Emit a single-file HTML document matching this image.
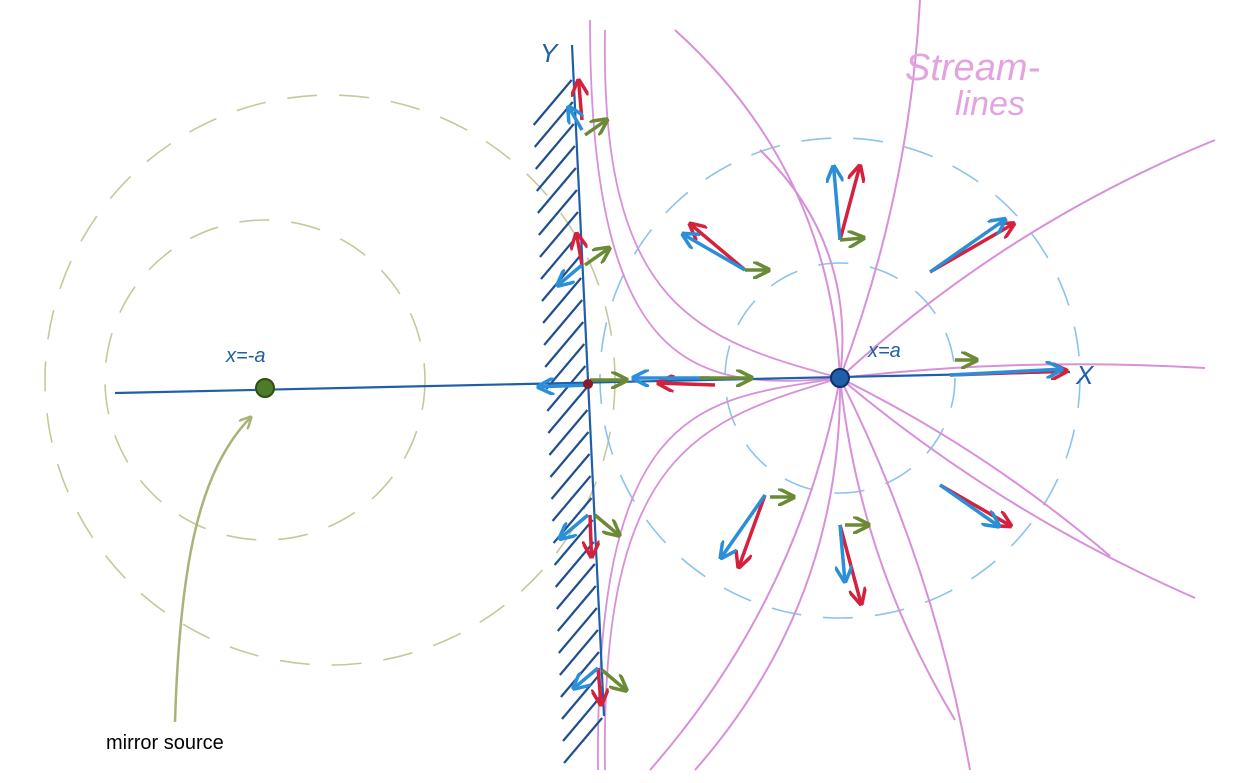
<!DOCTYPE html>
<html><head><meta charset="utf-8"><style>
html,body{margin:0;padding:0;background:#fff;width:1252px;height:783px;overflow:hidden}
svg{display:block}
text{font-family:"Liberation Sans",sans-serif}
</style></head><body>
<svg id="sk" width="1252" height="783" viewBox="0 0 1252 783" xmlns="http://www.w3.org/2000/svg">
<defs>
<marker id="ar" viewBox="0 0 10 10" refX="8" refY="5" markerWidth="5" markerHeight="5" orient="auto"><path d="M0,0 L10,5 L0,10" fill="none" stroke="context-stroke" stroke-width="2"/></marker>
</defs>
<g id="circles"></g>
<g id="streams"></g>
<g id="hatch"></g>
<line x1="115" y1="393" x2="1070" y2="372" stroke="#1f5fa8" stroke-width="2.2"/>
<line x1="572" y1="45" x2="604" y2="716" stroke="#1f5fa8" stroke-width="2.2"/>
<g id="arrows"></g>
<circle cx="265" cy="388" r="9" fill="#4f7a2a" stroke="#2c4f12" stroke-width="2"/>
<circle cx="840" cy="378" r="9" fill="#1f5fa8" stroke="#0d2f6a" stroke-width="2"/>
<circle cx="588" cy="384" r="5" fill="#8a1a2a"/>
<path d="M175,722 C180,560 200,470 250,418" fill="none" stroke="#aab27a" stroke-width="2.5" marker-end="url(#ar)"/>
<text x="226" y="362" font-size="20" fill="#1f5fa8" font-style="italic">x=-a</text>
<text x="868" y="357" font-size="20" fill="#1f5fa8" font-style="italic">x=a</text>
<text x="540" y="62" font-size="26" fill="#1f5fa8" font-style="italic">Y</text>
<text x="1076" y="384" font-size="26" fill="#1f5fa8" font-style="italic">X</text>
<text x="905" y="80" font-size="38" fill="#e3a3e0" font-style="italic">Stream-</text>
<text x="955" y="115" font-size="34" fill="#e3a3e0" font-style="italic">lines</text>
<text x="106" y="749" font-size="20" fill="#000">mirror source</text>
</svg>
<script>
const NS="http://www.w3.org/2000/svg";
const mirrorRadii=[160,285];
const sourceRadii=[115,240];
// streamline end points and bulge
const streamEnds=[[920,0,15],[1215,140,-20],[1205,368,-8],[1195,598,15],[1110,556,-10],[955,720,20],[970,770,-15],[695,770,-40],[650,770,-30],[760,150,30],[675,30,40]];
const cornerStreams=[[840,378,700,340,600,310,605,30],[840,378,700,390,590,380,590,20],[840,378,700,420,600,450,605,770],[840,378,700,400,595,400,598,770]];
const arrowData=[
[745,270,-140,70,"#d4213d"],[745,270,-150,70,"#2a8fd8"],[745,270,0,22,"#6a8a35"],
[840,240,-75,75,"#d4213d"],[840,240,-95,72,"#2a8fd8"],[840,240,-5,22,"#6a8a35"],
[930,272,-30,95,"#d4213d"],[930,272,-35,90,"#2a8fd8"],
[950,375,-2,115,"#d4213d"],[950,375,-3,110,"#2a8fd8"],[955,360,0,20,"#6a8a35"],
[940,485,30,80,"#d4213d"],[940,485,35,70,"#2a8fd8"],
[840,525,75,80,"#d4213d"],[840,525,85,55,"#2a8fd8"],[845,525,0,22,"#6a8a35"],
[765,495,110,75,"#d4213d"],[765,495,125,75,"#2a8fd8"],[770,497,0,22,"#6a8a35"],
[715,385,182,55,"#d4213d"],[710,378,180,75,"#2a8fd8"],[700,378,0,50,"#6a8a35"],
[590,385,178,50,"#2a8fd8"],[590,380,0,35,"#6a8a35"],
[582,120,-95,38,"#d4213d"],[582,130,-120,25,"#2a8fd8"],[585,135,-35,25,"#6a8a35"],
[582,265,-100,30,"#d4213d"],[582,265,140,30,"#2a8fd8"],[585,265,-35,28,"#6a8a35"],
[590,515,88,40,"#d4213d"],[588,515,140,35,"#2a8fd8"],[595,515,40,30,"#6a8a35"],
[598,668,85,35,"#d4213d"],[598,668,140,30,"#2a8fd8"],[602,670,40,30,"#6a8a35"]];
const cg=document.getElementById('circles');
mirrorRadii.forEach(r=>{const c=document.createElementNS(NS,'circle');


c.setAttribute('cx',r>200?330:265);c.setAttribute('cy',380);c.setAttribute('r',r);
c.setAttribute('fill','none');c.setAttribute('stroke','#c5c99a');c.setAttribute('stroke-width','1.6');c.setAttribute('stroke-dasharray','30 22');cg.appendChild(c);});
sourceRadii.forEach(r=>{const c=document.createElementNS(NS,'circle');


c.setAttribute('cx',840);c.setAttribute('cy',378);c.setAttribute('r',r);
c.setAttribute('fill','none');c.setAttribute('stroke','#8cc3ea');c.setAttribute('stroke-width','1.6');c.setAttribute('stroke-dasharray','30 22');cg.appendChild(c);});
const sg=document.getElementById('streams');
streamEnds.forEach(e=>{const p=document.createElementNS(NS,'path');
const dx=e[0]-840, dy=e[1]-378, L=Math.hypot(dx,dy);
const mx=840+dx/2 - dy/L*e[2]*2, my=378+dy/2 + dx/L*e[2]*2;


p.setAttribute('d',`M840,378 Q${mx},${my} ${e[0]},${e[1]}`);
p.setAttribute('fill','none');p.setAttribute('stroke','#d890d8');p.setAttribute('stroke-width','2');sg.appendChild(p);});
cornerStreams.forEach(w=>{const p=document.createElementNS(NS,'path');


p.setAttribute('d',`M${w[0]},${w[1]} C${w[2]},${w[3]} ${w[4]},${w[5]} ${w[6]},${w[7]}`);
p.setAttribute('fill','none');p.setAttribute('stroke','#d890d8');p.setAttribute('stroke-width','1.8');sg.appendChild(p);});
const hg=document.getElementById('hatch');
for(let y=80;y<720;y+=22){const l=document.createElementNS(NS,'line');
const x=572+(y-45)*32/671;


l.setAttribute('x1',x-2);l.setAttribute('y1',y);l.setAttribute('x2',x-40);l.setAttribute('y2',y+45);
l.setAttribute('stroke','#1f4f90');l.setAttribute('stroke-width','2.2');hg.appendChild(l);}
const ag=document.getElementById('arrows');
arrowData.forEach(a=>{const l=document.createElementNS(NS,'line');
const t=a[2]*Math.PI/180;


l.setAttribute('x1',a[0]);l.setAttribute('y1',a[1]);
l.setAttribute('x2',a[0]+a[3]*Math.cos(t));l.setAttribute('y2',a[1]+a[3]*Math.sin(t));
l.setAttribute('stroke',a[4]);l.setAttribute('stroke-width','3.5');l.setAttribute('marker-end','url(#ar)');ag.appendChild(l);});
</script>
</body></html>
